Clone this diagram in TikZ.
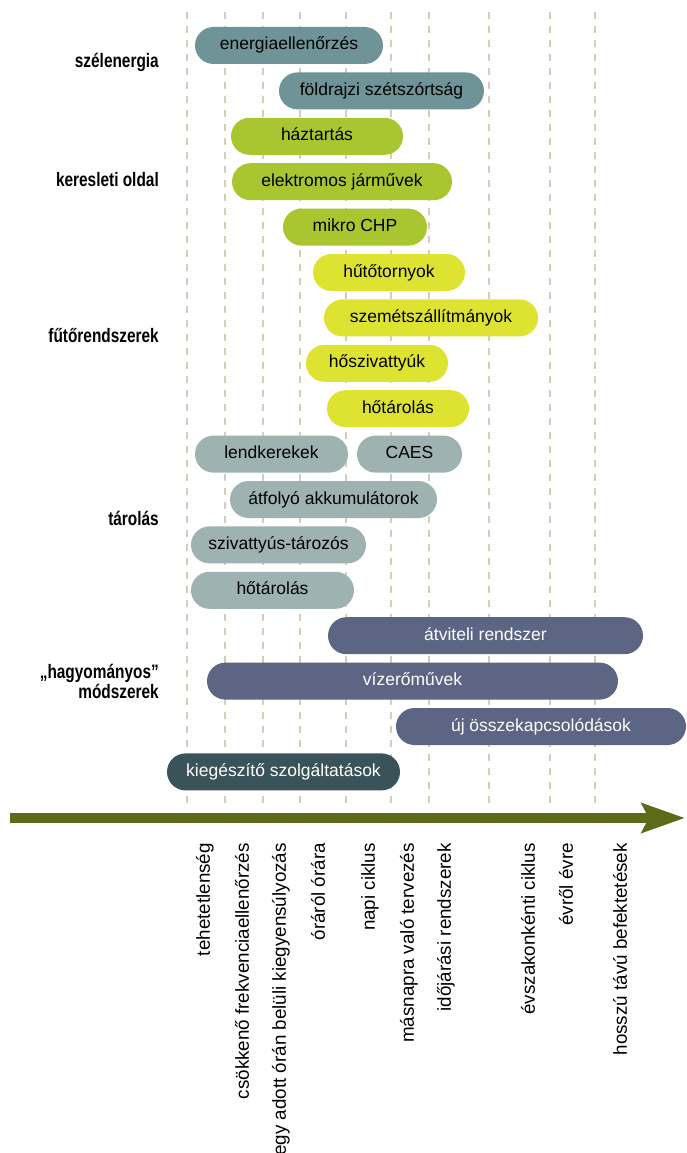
\documentclass[tikz,border=0pt]{standalone}
\usepackage{fontspec}
\setmainfont{Liberation Sans}
\usetikzlibrary{arrows.meta}
\definecolor{cwind}{HTML}{6E9497}
\definecolor{cdemand}{HTML}{A9C52F}
\definecolor{cheat}{HTML}{DEE332}
\definecolor{cstore}{HTML}{9DB2B1}
\definecolor{cconv}{HTML}{5C6584}
\definecolor{cancil}{HTML}{3A5358}
\definecolor{carrow}{HTML}{5B6B19}
\definecolor{cgrid}{HTML}{D0D0B8}
\newcommand{\catfont}{\fontsize{19.5}{18}\selectfont\bfseries}
\newcommand{\catbox}[1]{\scalebox{0.79}[1]{#1}}
\begin{document}
\begin{tikzpicture}[x=1pt,y=-1pt,
  barbox/.style={rounded corners=18.5pt, minimum height=37pt, inner sep=0pt,
    text height=12.5pt, text depth=3.5pt, font=\fontsize{17.5}{20}\selectfont},
  wind/.style={barbox, fill=cwind, text=black},
  demand/.style={barbox, fill=cdemand, text=black},
  heat/.style={barbox, fill=cheat, text=black},
  store/.style={barbox, fill=cstore, text=black},
  conv/.style={barbox, fill=cconv, text=white},
  ancil/.style={barbox, fill=cancil, text=white},
  cat/.style={anchor=base east, inner sep=0pt, font=\catfont},
  axlabel/.style={rotate=90, anchor=east, inner sep=0pt, font=\fontsize{18.8}{20}\selectfont},
  gridline/.style={draw=cgrid, line width=2pt, dash pattern=on 7pt off 7pt}
]
\useasboundingbox (0,0) rectangle (686,1153);
% grid lines
\foreach \gx in {187,225,263,300,346,391,429,489,550,595}
  \draw[gridline] (\gx,12) -- (\gx,810);
% category labels
\node[cat] (cwindl) at (159,67.5) {\catbox{szélenergia}};
\node[cat] (cdemandl) at (159,186.5) {\catbox{keresleti oldal}};
\node[cat] (cheatl) at (159,342.5) {\catbox{fűtőrendszerek}};
\node[cat] (cstorel) at (159,525.5) {\catbox{tárolás}};
\node[cat] (cconvl) at (159,678.5) {\catbox{\begin{tabular}[t]{@{}r@{}}„hagyományos”\\módszerek\end{tabular}}};
% bars
\node[wind, minimum width=188pt] (b0) at (289,45.5) {energiaellenőrzés};
\node[wind, minimum width=205pt] (b1) at (381.5,90.9) {földrajzi szétszórtság};
\node[demand, minimum width=172pt] (b2) at (317,136.3) {háztartás};
\node[demand, minimum width=220pt] (b3) at (342,181.7) {elektromos járművek};
\node[demand, minimum width=144pt] (b4) at (355,227.1) {mikro CHP};
\node[heat, minimum width=152pt] (b5) at (389,272.5) {hűtőtornyok};
\node[heat, minimum width=214pt] (b6) at (431,317.9) {szemétszállítmányok};
\node[heat, minimum width=142pt] (b7) at (377,363.3) {hőszivattyúk};
\node[heat, minimum width=142pt] (b8) at (398,408.7) {hőtárolás};
\node[store, minimum width=153pt] (b9) at (271.5,454.1) {lendkerekek};
\node[store, minimum width=105pt] (b9b) at (409.5,454.1) {CAES};
\node[store, minimum width=207pt] (b10) at (333.5,499.5) {átfolyó akkumulátorok};
\node[store, minimum width=175pt] (b11) at (278.5,544.9) {szivattyús-tározós};
\node[store, minimum width=163pt] (b12) at (272.5,590.3) {hőtárolás};
\node[conv, minimum width=315pt] (b13) at (485.5,635.7) {átviteli rendszer};
\node[conv, minimum width=411pt] (b14) at (412.5,681.1) {vízerőművek};
\node[conv, minimum width=290pt] (b15) at (541,726.5) {új összekapcsolódások};
\node[ancil, minimum width=233pt] (b16) at (283.5,771.9) {kiegészítő szolgáltatások};
% axis arrow
\coordinate (axstart) at (10,818);
\coordinate (axend) at (685,818);
\draw[carrow, line width=10.7pt, -{Stealth[length=43pt, width=29pt, inset=7pt]}] (axstart) -- (axend);
% axis labels
\node[axlabel] (l1) at (205,843) {tehetetlenség};
\node[axlabel] (l2) at (242,843) {csökkenő frekvenciaellenőrzés};
\node[axlabel] (l3) at (281,843) {egy adott órán belüli kiegyensúlyozás};
\node[axlabel] (l4) at (318,843) {óráról órára};
\node[axlabel] (l5) at (370,843) {napi ciklus};
\node[axlabel] (l6) at (409,843) {másnapra való tervezés};
\node[axlabel] (l7) at (446,843) {időjárási rendszerek};
\node[axlabel] (l8) at (528,843) {évszakonkénti ciklus};
\node[axlabel] (l9) at (566,843) {évről évre};
\node[axlabel] (l10) at (620,843) {hosszú távú befektetések};
\end{tikzpicture}
\end{document}
